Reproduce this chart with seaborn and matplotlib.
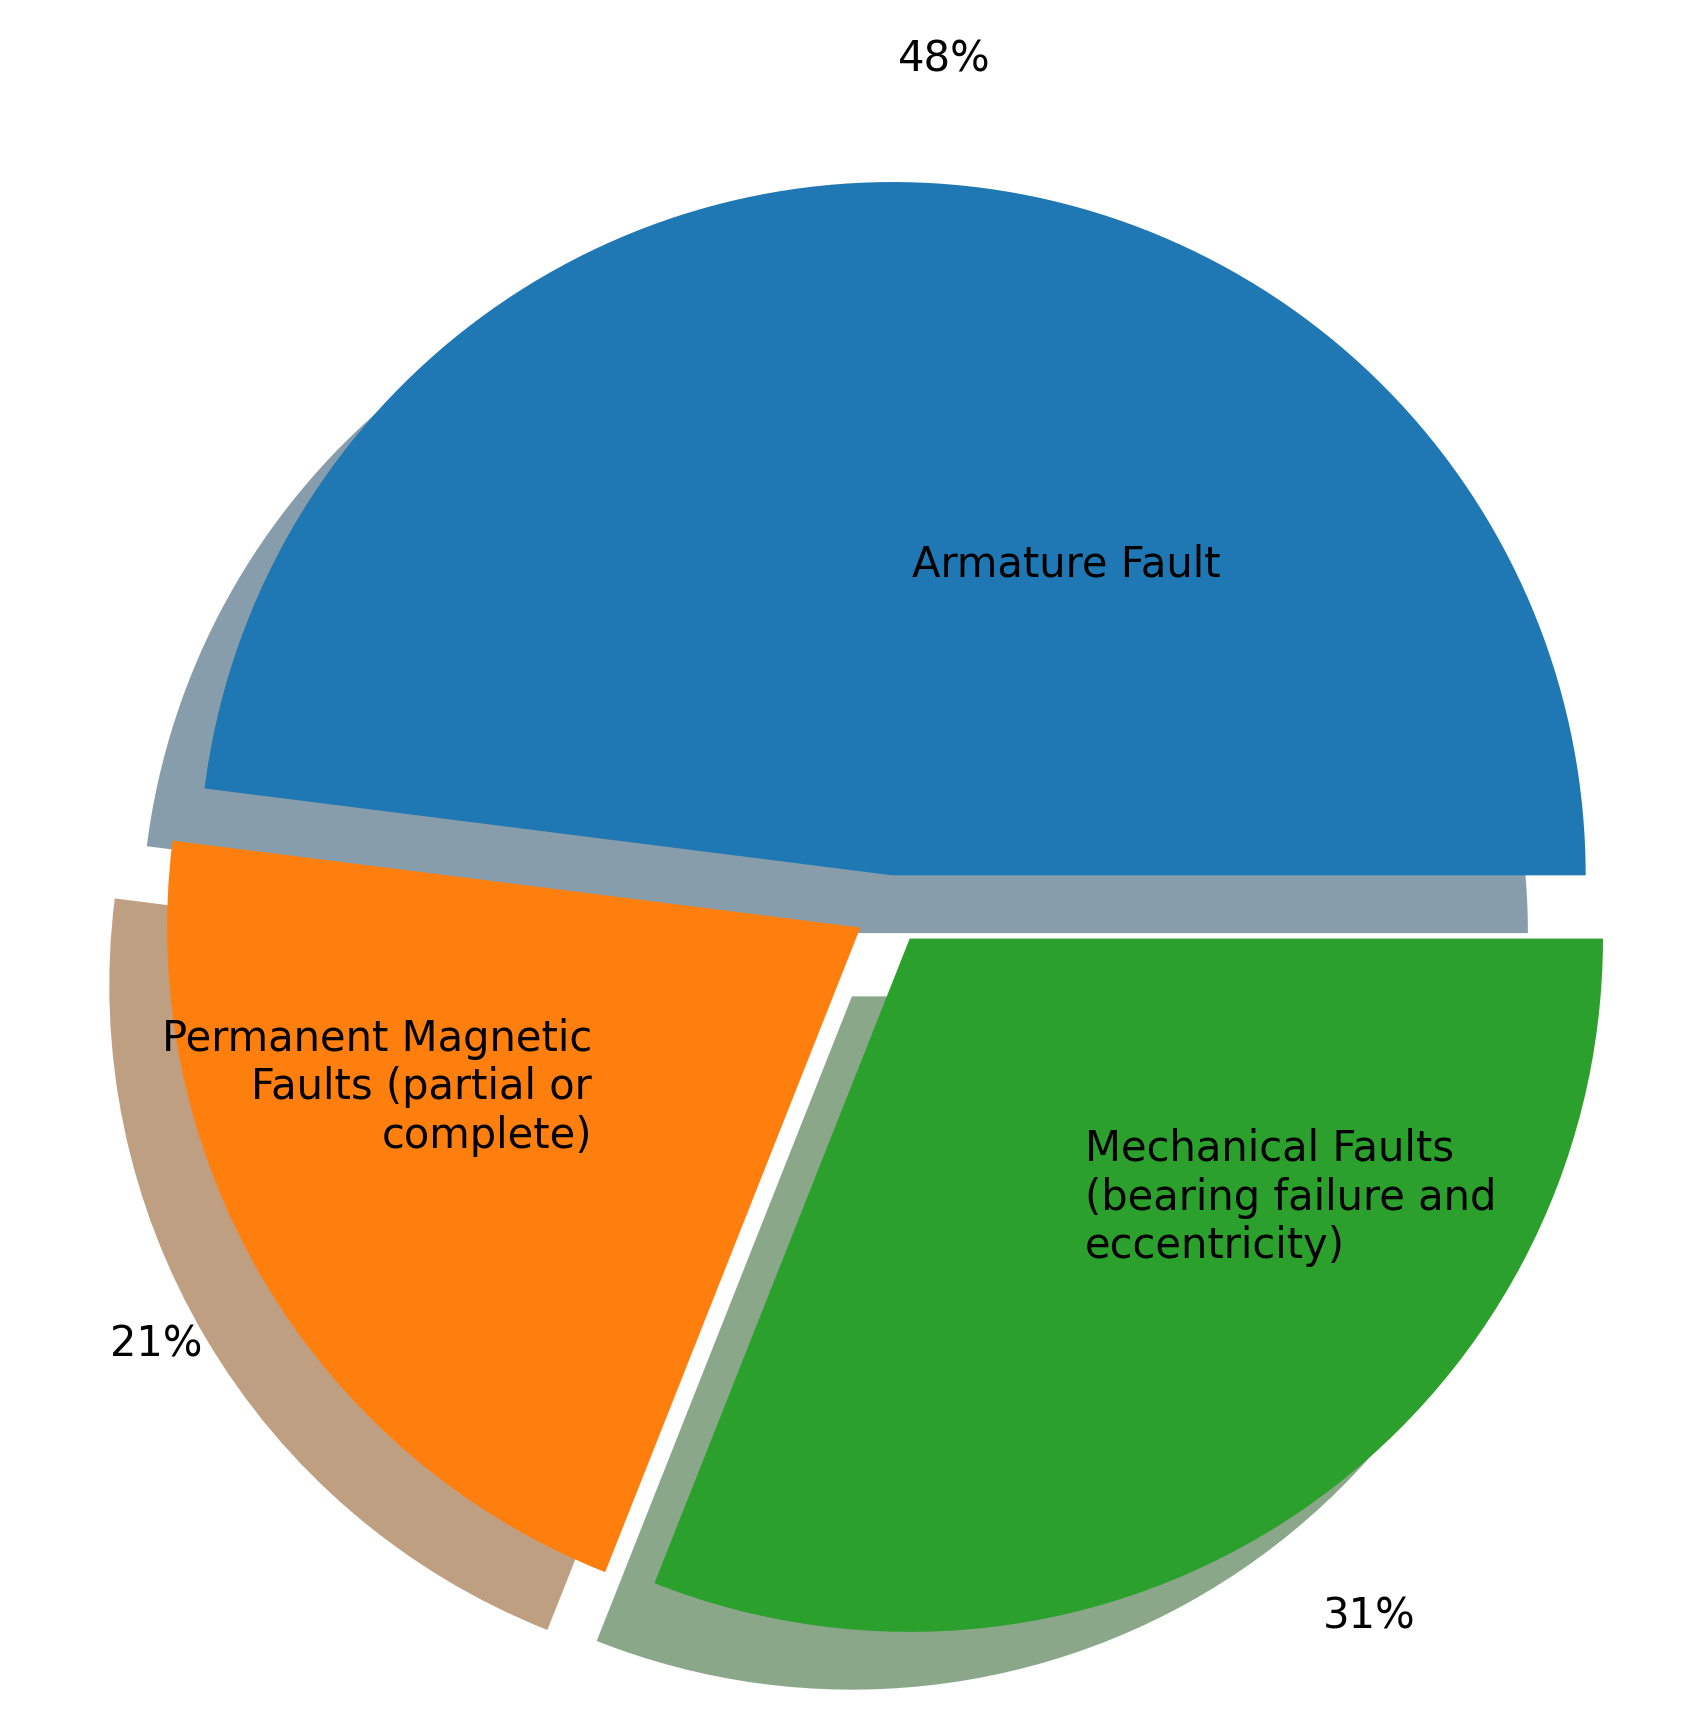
import matplotlib
matplotlib.use("Agg")
import matplotlib.pyplot as plt
import seaborn as sns

labels = ["Armature Fault",
          "Permanent Magnetic\nFaults (partial or\ncomplete)",
          "Mechanical Faults\n(bearing failure and\neccentricity)"]
shares = [48, 21, 31]
explode = [0.05, 0.05, 0.05]

colors = sns.color_palette("tab10", 3)

fig = plt.figure(figsize=(5.62, 5.783), dpi=300)
ax = fig.add_axes([0.014, -0.025, 1.028, 1.0])
ax.pie(shares, labels=labels, explode=explode, colors=colors,
       shadow={"ox": -0.02, "oy": -0.02, "shade": 0.5, "edgecolor": "none"},
       autopct="%1.0f%%", labeldistance=0.45, pctdistance=1.18,
       textprops={"fontsize": 10})
ax.set_aspect("equal")
fig.savefig("out.png", dpi=300)
